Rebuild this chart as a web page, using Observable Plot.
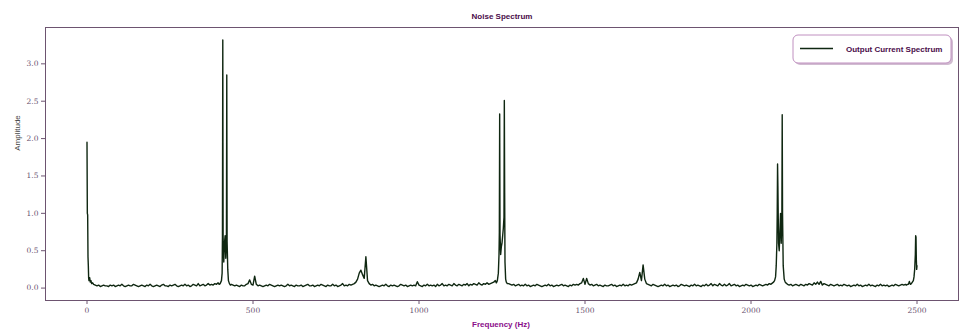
<!DOCTYPE html>
<html>
<head>
<meta charset="utf-8">
<script src="https://cdn.jsdelivr.net/npm/d3@7"></script>
<script src="https://cdn.jsdelivr.net/npm/@observablehq/plot@0.6"></script>
<style>
  html, body { margin: 0; padding: 0; background: #ffffff; }
  #chart svg { display: block; }
</style>
</head>
<body>
<div id="chart"></div>
<script>
// ---------- data ----------
const xTicks = [0, 500, 1000, 1500, 2000, 2500];
const yTicks = [0, 0.5, 1.0, 1.5, 2.0, 2.5, 3.0];

// DC component
const dcFreq = [0, 1, 2, 3, 4, 5, 6, 8, 10, 12, 14, 17];
const dcAmp  = [1.95, 1.0, .98, .42, .3, .13, .1, .14, .08, .1, .06, .07];

// peak pair near 410 Hz
const peakAFreq = [398, 401, 403, 405, 407, 408, 409, 410, 412, 414, 416, 418, 420, 421, 422, 424, 426, 429, 432];
const peakAAmp  = [.05, .06, .08, .1, .2, .7, 3.32, .68, .35, .6, .7, .4, .65, 2.85, .62, .25, .1, .06, .04];

// peak pair near 1250 Hz
const peakBFreq = [1233, 1236, 1239, 1241, 1242, 1243, 1244, 1246, 1248, 1250, 1252, 1254, 1256, 1257, 1258, 1259, 1261, 1263, 1266];
const peakBAmp  = [.07, .1, .2, .45, .75, 2.33, .72, .45, .55, .6, .7, .8, .95, 2.51, 1.28, .35, .12, .08, .06];

// peak pair near 2085 Hz
const peakCFreq = [2068, 2071, 2074, 2076, 2078, 2079, 2080, 2081, 2083, 2085, 2087, 2089, 2091, 2093, 2094, 2095, 2097, 2100, 2103];
const peakCAmp  = [.08, .1, .15, .3, .6, 1.0, 1.66, 1.37, .6, .5, .75, 1.0, .6, .95, 2.32, 1.0, .3, .12, .08];

// peak near 2500 Hz
const peakDFreq = [2468, 2471, 2474, 2477, 2480, 2483, 2486, 2489, 2491, 2493, 2495, 2496, 2497, 2498, 2499, 2500];
const peakDAmp  = [.04, .05, .05, .09, .05, .06, .08, .1, .15, .25, .45, .7, .68, .38, .25, .3];

// noise floor, 5 Hz bins
const floorStep = 5;
const floorAStart = 20;   // 20 .. 395 Hz
const floorA = [
  .05,.04,.03,.04,.02,.03,.04,.03,.03,.02,
  .04,.03,.04,.02,.03,.04,.03,.05,.03,.02,
  .03,.04,.03,.03,.05,.04,.03,.02,.03,.04,
  .03,.02,.04,.03,.05,.03,.02,.03,.04,.03,
  .02,.04,.05,.03,.03,.02,.04,.03,.04,.05,
  .03,.02,.03,.04,.03,.05,.03,.04,.02,.03,
  .05,.04,.03,.06,.03,.04,.05,.03,.04,.06,
  .04,.05,.04,.06,.05,.07
];
const floorBStart = 435;  // 435 .. 1230 Hz
const floorB = [
  .05,.04,.03,.04,.03,.02,.04,.03,.03,.05,
  .06,.11,.05,.04,.16,.05,.03,.04,.03,.02,
  .03,.04,.03,.05,.04,.03,.02,.03,.04,.03,
  .04,.03,.02,.03,.05,.03,.04,.03,.02,.04,
  .03,.03,.04,.02,.03,.04,.05,.03,.03,.04,
  .02,.03,.04,.03,.05,.04,.03,.02,.04,.03,
  .03,.05,.03,.04,.02,.03,.04,.06,.03,.04,
  .03,.05,.04,.05,.06,.08,.12,.20,.24,.18,
  .13,.42,.10,.06,.04,.05,.03,.04,.03,.02,
  .03,.04,.03,.05,.03,.02,.04,.03,.04,.03,
  .02,.03,.05,.04,.03,.04,.02,.03,.04,.03,
  .04,.03,.085,.04,.03,.02,.04,.03,.05,.03,
  .04,.03,.04,.02,.05,.03,.04,.06,.03,.04,
  .03,.05,.04,.03,.06,.04,.03,.05,.04,.03,
  .05,.04,.06,.03,.05,.04,.06,.05,.04,.07,
  .05,.04,.06,.05,.07,.05,.06,.07,.08,.10
];
const floorCStart = 1270; // 1270 .. 2065 Hz
const floorC = [
  .06,.05,.04,.05,.03,.04,.05,.03,.04,.03,
  .05,.03,.04,.02,.03,.04,.03,.05,.04,.03,
  .02,.03,.04,.03,.05,.03,.04,.02,.03,.04,
  .03,.04,.05,.03,.04,.03,.02,.04,.03,.05,
  .04,.05,.04,.06,.07,.13,.05,.13,.06,.04,
  .05,.03,.04,.05,.03,.04,.03,.02,.04,.03,
  .03,.04,.05,.03,.04,.02,.03,.04,.03,.05,
  .03,.04,.03,.05,.04,.05,.06,.07,.12,.21,
  .10,.31,.12,.06,.05,.04,.03,.05,.04,.03,
  .02,.03,.04,.03,.05,.03,.04,.02,.03,.04,
  .03,.04,.02,.03,.05,.04,.03,.04,.03,.02,
  .04,.03,.05,.03,.04,.03,.02,.04,.03,.05,
  .03,.04,.06,.03,.05,.04,.03,.06,.04,.03,
  .05,.03,.04,.06,.03,.04,.05,.03,.04,.02,
  .03,.04,.03,.05,.04,.03,.04,.02,.03,.04,
  .03,.05,.04,.03,.04,.05,.04,.06,.05,.07
];
const floorDStart = 2105; // 2105 .. 2465 Hz
const floorD = [
  .07,.05,.04,.05,.03,.04,.05,.04,.03,.05,
  .04,.03,.05,.04,.06,.05,.04,.07,.05,.08,
  .05,.09,.04,.06,.05,.04,.03,.05,.04,.03,
  .04,.05,.03,.04,.03,.05,.04,.03,.04,.02,
  .03,.04,.03,.05,.03,.04,.02,.03,.04,.03,
  .05,.03,.04,.03,.02,.04,.03,.05,.03,.04,
  .03,.04,.02,.03,.04,.03,.05,.04,.03,.04,
  .05,.04,.05
];

// ---------- assemble ----------
const points = [];
const addPairs = (fs, as) => fs.forEach((f, i) => points.push({f, a: as[i]}));
const addFloor = (start, vals) => vals.forEach((a, i) => points.push({f: start + i * floorStep, a}));
addPairs(dcFreq, dcAmp);
addPairs(peakAFreq, peakAAmp);
addPairs(peakBFreq, peakBAmp);
addPairs(peakCFreq, peakCAmp);
addPairs(peakDFreq, peakDAmp);
addFloor(floorAStart, floorA);
addFloor(floorBStart, floorB);
addFloor(floorCStart, floorC);
addFloor(floorDStart, floorD);
points.sort((p, q) => p.f - q.f);

// ---------- style ----------
const lineColor = "#0f2711";
const frameColor = "#6d5470";
const tickTextColor = "#6a5370";
const titleColor = "#4a0c4a";
const xLabelColor = "#8a0c8a";
const sansBold = "'Liberation Sans', Arial, sans-serif";

const chart = Plot.plot({
  width: 964,
  height: 330,
  marginLeft: 45,
  marginRight: 6,
  marginTop: 27,
  marginBottom: 30,
  x: {domain: [-125, 2625]},
  y: {domain: [-0.166, 3.486]},
  style: {fontFamily: "'DejaVu Serif', serif", fontSize: "7.5px", background: "#ffffff"},
  marks: [
    Plot.line(points, {x: "f", y: "a", stroke: lineColor, strokeWidth: 1.4}),
    Plot.frame({stroke: frameColor, strokeWidth: 1}),
    Plot.axisX({ticks: xTicks, tickSize: 4, tickPadding: 3, stroke: frameColor, fill: tickTextColor,
                tickFormat: d => String(d), label: null}),
    Plot.axisY({ticks: yTicks, tickSize: 4, tickPadding: 3, stroke: frameColor, fill: tickTextColor,
                tickFormat: d3.format(".1f"), label: null})
  ]
});

const svg = d3.select(chart);
// title
svg.append("text")
  .attr("x", 502).attr("y", 19)
  .attr("text-anchor", "middle")
  .attr("font-family", sansBold).attr("font-weight", "bold").attr("font-size", 8)
  .attr("fill", titleColor)
  .text("Noise Spectrum");
// x label
svg.append("text")
  .attr("x", 501).attr("y", 327)
  .attr("text-anchor", "middle")
  .attr("font-family", sansBold).attr("font-weight", "bold").attr("font-size", 8)
  .attr("fill", xLabelColor)
  .text("Frequency (Hz)");
// y label
svg.append("text")
  .attr("transform", "translate(20,133) rotate(-90)")
  .attr("text-anchor", "middle")
  .attr("font-family", sansBold).attr("font-size", 8)
  .attr("fill", "#444444")
  .text("Amplitude");
// legend
const lg = svg.append("g");
lg.append("rect").attr("x", 795).attr("y", 37).attr("width", 158).attr("height", 28)
  .attr("rx", 5).attr("fill", "#9a6a9a").attr("opacity", 0.45);
lg.append("rect").attr("x", 793).attr("y", 35).attr("width", 158).attr("height", 28)
  .attr("rx", 5).attr("fill", "#ffffff").attr("stroke", "#c090c0").attr("stroke-width", 1);
lg.append("line").attr("x1", 800).attr("x2", 833).attr("y1", 48.5).attr("y2", 48.5)
  .attr("stroke", lineColor).attr("stroke-width", 1.5);
lg.append("text").attr("x", 846).attr("y", 51.5)
  .attr("text-anchor", "start")
  .attr("font-family", sansBold).attr("font-weight", "bold").attr("font-size", 8)
  .attr("fill", titleColor)
  .text("Output Current Spectrum");

document.getElementById("chart").appendChild(chart);
</script>
</body>
</html>
